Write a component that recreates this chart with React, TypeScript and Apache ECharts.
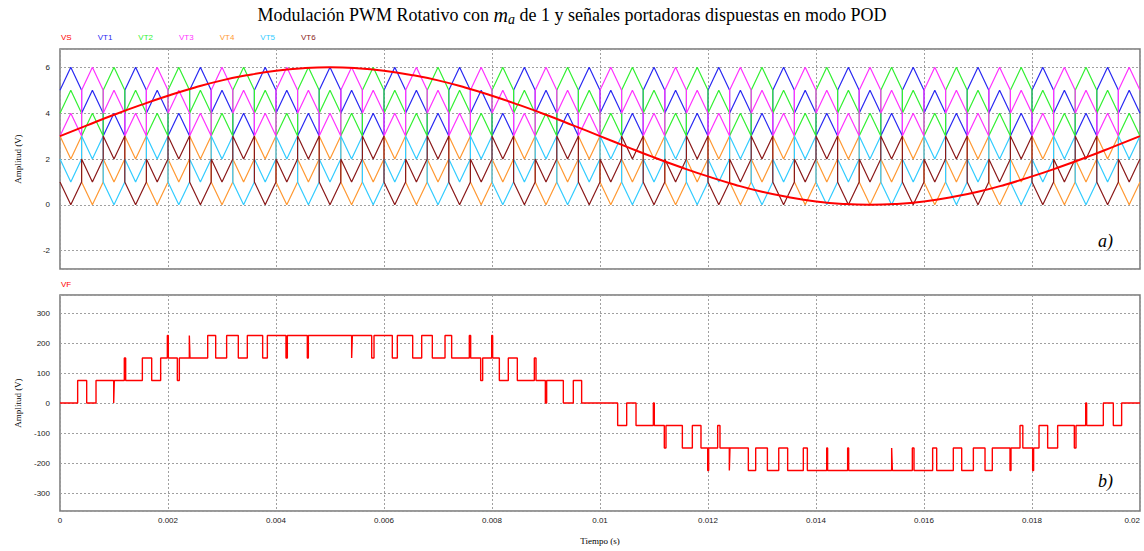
import React, { useEffect, useRef } from "react";
import * as echarts from "echarts";

// ---- time axis ----
const T_MAX = 0.02; // s
const X_TICK = 0.002;

// ---- reference signal VS (every 0.5 ms) ----
const VS_TIMES_MS = [
  0, 0.5, 1, 1.5, 2, 2.5, 3, 3.5, 4, 4.5, 5, 5.5, 6, 6.5, 7, 7.5, 8, 8.5, 9, 9.5, 10,
  10.5, 11, 11.5, 12, 12.5, 13, 13.5, 14, 14.5, 15, 15.5, 16, 16.5, 17, 17.5, 18, 18.5, 19, 19.5, 20,
];
const VS_VALUES = [
  3, 3.47, 3.93, 4.36, 4.76, 5.12, 5.43, 5.67, 5.85, 5.96, 6, 5.96, 5.85, 5.67, 5.43, 5.12, 4.76, 4.36, 3.93, 3.47, 3,
  2.53, 2.07, 1.64, 1.24, 0.88, 0.57, 0.33, 0.15, 0.04, 0, 0.04, 0.15, 0.33, 0.57, 0.88, 1.24, 1.64, 2.07, 2.53, 3,
];

// ---- carriers: 50 triangle periods, each carrier rotates among bands (lower edge of band per period) ----
const CARRIER_PERIODS = 50;
const CARRIER_NAMES = ["VT1", "VT2", "VT3", "VT4", "VT5", "VT6"];
const CARRIER_COLORS = ["#2a2af2", "#33f033", "#ff33ff", "#ff9933", "#33ccff", "#8b1a1a"];
const CARRIER_BANDS = [
  [5, 4, 3],
  [4, 3, 5],
  [3, 5, 4],
  [2, 0, 1],
  [1, 2, 0],
  [0, 1, 2],
];
const CARRIER_SHAPES = ["peak", "peak", "peak", "valley", "valley", "valley"];

// ---- output VF: switching instants (ms) and new level (V) ----
const VF_SWITCH_MS = [
  0.327, 0.494, 0.667, 0.994, 1.006, 1.191, 1.216, 1.525, 1.698, 1.864, 1.988, 2.006, 2.173, 2.21, 2.395, 2.407,
  2.735, 2.883, 3.086, 3.302, 3.469, 3.753, 3.84, 4.185, 4.21, 4.58, 4.599, 5.401, 5.414, 5.772, 5.815, 6.154,
  6.247, 6.531, 6.698, 6.895, 7.13, 7.253, 7.58, 7.605, 7.79, 7.827, 7.994, 8.012, 8.136, 8.302, 8.469, 8.784,
  8.815, 8.988, 9.012, 9.321, 9.506, 9.66,
  10.327, 10.494, 10.667, 10.988, 11.006, 11.191, 11.222, 11.525, 11.71, 11.87, 11.994, 12.012, 12.179, 12.222,
  12.395, 12.407, 12.747, 12.883, 13.1, 13.31, 13.475, 13.765, 13.84, 14.198, 14.215, 14.586, 14.605, 15.401,
  15.414, 15.784, 15.815, 16.16, 16.235, 16.543, 16.698, 16.914, 17.13, 17.265, 17.593, 17.611, 17.778, 17.83,
  18.012, 18.03, 18.13, 18.29, 18.475, 18.784, 18.815, 18.994, 19.012, 19.321, 19.506, 19.66,
];
const VF_LEVELS = [
  75, 0, 75, 0, 75, 150, 75, 150, 75, 150, 225, 150, 75, 150, 225, 150,
  225, 150, 225, 150, 225, 150, 225, 150, 225, 150, 225, 150, 225, 150, 225, 150,
  225, 150, 225, 150, 225, 150, 225, 150, 75, 150, 225, 150, 75, 150, 75, 150,
  75, 0, 75, 0, 75, 0,
  -75, 0, -75, 0, -75, -150, -75, -150, -75, -150, -225, -150, -75, -150,
  -225, -150, -225, -150, -225, -150, -225, -150, -225, -150, -225, -150, -225, -150,
  -225, -150, -225, -150, -225, -150, -225, -150, -225, -150, -225, -150, -75, -150,
  -225, -150, -75, -150, -75, -150, -75, 0, -75, 0, -75, 0,
];
const VF_START = 0;

const SERIF = '"Liberation Serif", "Times New Roman", serif';
const SANS = '"Liberation Sans", Arial, sans-serif';

function carrierPoints(bands: number[], shape: string): number[][] {
  const T = T_MAX / CARRIER_PERIODS;
  const pts: number[][] = [];
  for (let k = 0; k < CARRIER_PERIODS; k++) {
    const b = bands[k % bands.length];
    const edge = shape === "peak" ? b : b + 1;
    const mid = shape === "peak" ? b + 1 : b;
    pts.push([k * T, edge], [(k + 0.5) * T, mid], [(k + 1) * T, edge]);
  }
  return pts;
}

function vfPoints(): number[][] {
  const pts: number[][] = [[0, VF_START]];
  let prev = VF_START;
  for (let i = 0; i < VF_SWITCH_MS.length; i++) {
    const t = VF_SWITCH_MS[i] / 1000;
    pts.push([t, prev], [t, VF_LEVELS[i]]);
    prev = VF_LEVELS[i];
  }
  pts.push([T_MAX, prev]);
  return pts;
}

export default function App() {
  const ref = useRef<HTMLDivElement>(null);

  useEffect(() => {
    if (!ref.current) return;
    const chart = echarts.init(ref.current, undefined, { renderer: "svg" });

    const gridLine = { show: true, lineStyle: { color: "#a0a0a0", type: [2, 2] as any, width: 1 } };
    const yLabel = { fontSize: 8, fontFamily: SANS, color: "#222", margin: 10 };

    const option: any = {
      animation: false,
      backgroundColor: "#ffffff",
      title: {
        text: "Modulación PWM Rotativo con {m|m}{a|a} de 1 y señales portadoras dispuestas en modo POD",
        left: "center",
        top: -1,
        textStyle: {
          fontFamily: SERIF,
          fontSize: 18,
          fontWeight: "normal",
          color: "#000",
          lineHeight: 22,
          rich: {
            m: { fontFamily: SERIF, fontStyle: "italic", fontSize: 20, lineHeight: 22, color: "#000" },
            a: { fontFamily: SERIF, fontStyle: "italic", fontSize: 14, lineHeight: 15, verticalAlign: "bottom", color: "#000" },
          },
        },
      },
      legend: [
        {
          left: 51,
          top: 27,
          icon: "none",
          itemWidth: 0,
          itemHeight: 10,
          itemGap: 21,
          selectedMode: false,
          textStyle: { fontSize: 8, fontFamily: SANS },
          data: [
            { name: "VS", textStyle: { color: "#ff0000" } },
            ...CARRIER_NAMES.map((n, i) => ({ name: n, textStyle: { color: CARRIER_COLORS[i] } })),
          ],
        },
        {
          left: 51,
          top: 274,
          icon: "none",
          itemWidth: 0,
          itemHeight: 10,
          selectedMode: false,
          textStyle: { fontSize: 8, fontFamily: SANS },
          data: [{ name: "VF", textStyle: { color: "#ff0000" } }],
        },
      ],
      grid: [
        { left: 60, right: 4, top: 49, height: 220, show: true, borderColor: "#777", borderWidth: 1.5, backgroundColor: "transparent" },
        { left: 60, right: 4, top: 295, height: 216, show: true, borderColor: "#777", borderWidth: 1.5, backgroundColor: "transparent" },
      ],
      xAxis: [
        {
          type: "value",
          gridIndex: 0,
          min: 0,
          max: T_MAX,
          interval: X_TICK,
          axisLabel: { show: false },
          axisLine: { show: false },
          axisTick: { show: false },
          splitLine: gridLine,
        },
        {
          type: "value",
          gridIndex: 1,
          min: 0,
          max: T_MAX,
          interval: X_TICK,
          name: "Tiempo (s)",
          nameLocation: "middle",
          nameGap: 25,
          nameTextStyle: { fontFamily: SERIF, fontSize: 9, color: "#000" },
          axisLabel: { fontSize: 8, fontFamily: SANS, color: "#222", margin: 5, alignMaxLabel: "right" },
          axisLine: { show: false },
          axisTick: { show: false },
          splitLine: gridLine,
        },
      ],
      yAxis: [
        {
          type: "value",
          gridIndex: 0,
          min: -2.8,
          max: 6.8,
          name: "Amplitud (V)",
          nameLocation: "middle",
          nameGap: 38,
          nameTextStyle: { fontFamily: SERIF, fontSize: 9, color: "#000" },
          axisLabel: { ...yLabel, showMinLabel: false, showMaxLabel: false },
          axisLine: { show: false },
          axisTick: { show: false },
          splitLine: gridLine,
        },
        {
          type: "value",
          gridIndex: 1,
          min: -360,
          max: 360,
          name: "Amplitud (V)",
          nameLocation: "middle",
          nameGap: 38,
          nameTextStyle: { fontFamily: SERIF, fontSize: 9, color: "#000" },
          axisLabel: { ...yLabel, showMinLabel: false, showMaxLabel: false },
          axisLine: { show: false },
          axisTick: { show: false },
          splitLine: gridLine,
        },
      ],
      graphic: [
        { type: "text", left: 1098, top: 232, style: { text: "a)", font: `italic 18px ${SERIF}`, fill: "#000" } },
        { type: "text", left: 1098, top: 472, style: { text: "b)", font: `italic 18px ${SERIF}`, fill: "#000" } },
      ],
      series: [
        {
          name: "VS",
          type: "line",
          xAxisIndex: 0,
          yAxisIndex: 0,
          data: VS_TIMES_MS.map((t, i) => [t / 1000, VS_VALUES[i]]),
          smooth: true,
          showSymbol: false,
          symbol: "none",
          z: 5,
          color: "#ff0000",
          lineStyle: { color: "#ff0000", width: 2 },
        },
        ...CARRIER_NAMES.map((n, i) => ({
          name: n,
          type: "line",
          xAxisIndex: 0,
          yAxisIndex: 0,
          data: carrierPoints(CARRIER_BANDS[i], CARRIER_SHAPES[i]),
          showSymbol: false,
          symbol: "none",
          z: 2,
          color: CARRIER_COLORS[i],
          lineStyle: { color: CARRIER_COLORS[i], width: 1.2 },
        })),
        {
          name: "VF",
          type: "line",
          xAxisIndex: 1,
          yAxisIndex: 1,
          data: vfPoints(),
          showSymbol: false,
          symbol: "none",
          color: "#ff0000",
          lineStyle: { color: "#ff0000", width: 1.4 },
        },
      ],
    };

    chart.setOption(option);
    return () => chart.dispose();
  }, []);

  return (
    <div
      ref={ref}
      style={{ position: "absolute", left: 0, top: 0, width: 1144, height: 551, background: "#fff" }}
    />
  );
}
